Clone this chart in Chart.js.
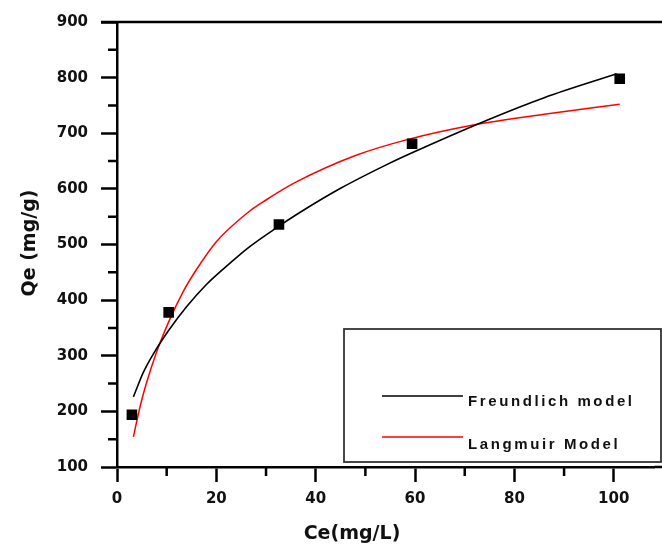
<!DOCTYPE html>
<html lang="en">
<head>
    <meta charset="UTF-8">
    <title>Isotherm fit</title>
    <script src="https://cdn.jsdelivr.net/npm/chart.js@4.4.1/dist/chart.umd.min.js"></script>
    <style>
        html, body { margin: 0; padding: 0; background: #fff; }
        #wrap { width: 662px; height: 550px; }
    </style>
</head>
<body>
    <div id="wrap"><canvas id="isoChart"></canvas></div>
    <script>
    // measured points
    var ceData = [3, 10.4, 32.6, 59.4, 101.2];
    var qeData = [194, 378, 536, 681, 798];

    // fitted curves
    var freundX = [3.3, 5.3, 7.3, 10.6, 14, 18, 22.7, 26.4, 32.6, 36, 45, 54.6, 59.4, 74.6, 86, 100.6];
    var freundY = [226, 270, 303, 348, 388, 428, 466, 494, 533, 553, 601, 645, 665, 724, 764, 807];
    var langX = [3.3, 4.6, 5.9, 7.9, 10.6, 13.3, 16, 20, 26.4, 30, 36, 48, 58.6, 71.2, 86, 101.2];
    var langY = [154, 207, 250, 305, 365, 415, 455, 505, 558, 580, 612, 660, 689, 714, 734, 752];

    var xTicks = [0, 20, 40, 60, 80, 100];
    var yTicks = [100, 200, 300, 400, 500, 600, 700, 800, 900];
    var legendLabels = ['Freundlich model', 'Langmuir Model'];

    function pairs(xs, ys) {
        return xs.map(function (x, i) { return { x: x, y: ys[i] }; });
    }

    var tickFont = { family: 'DejaVu Sans', size: 15, weight: 'bold' };

    // minor ticks, top frame line, axis titles and the boxed legend
    var extras = {
        id: 'extras',
        afterDraw: function (chart) {
            var c = chart.ctx, a = chart.chartArea;
            var xs = chart.scales.x, ys = chart.scales.y;
            c.save();
            c.strokeStyle = '#000';
            c.lineWidth = 2.5;
            c.beginPath();
            for (var v = 10; v <= 108; v += 20) {
                var px = xs.getPixelForValue(v);
                c.moveTo(px, a.bottom);
                c.lineTo(px, a.bottom + 9);
            }
            for (var w = 150; w < 900; w += 100) {
                var py = ys.getPixelForValue(w);
                c.moveTo(a.left, py);
                c.lineTo(a.left - 9, py);
            }
            c.moveTo(a.left - 16, a.top);
            c.lineTo(chart.width, a.top);
            c.moveTo(a.right, a.bottom);
            c.lineTo(chart.width, a.bottom);
            c.stroke();

            c.fillStyle = '#111';
            c.font = 'bold 19px "DejaVu Sans"';
            c.textAlign = 'center';
            c.textBaseline = 'middle';
            c.fillText('Ce(mg/L)', 352, 534);
            c.translate(30, 243);
            c.rotate(-Math.PI / 2);
            c.fillText('Qe (mg/g)', 0, 0);
            c.restore();

            c.save();
            c.strokeStyle = '#333';
            c.lineWidth = 1.8;
            c.strokeRect(344, 329, 317, 133);
            var colors = ['#000', '#ff0000'];
            var lineY = [396, 437], textY = [402, 445];
            c.font = 'bold 15px "Liberation Sans"';
            c.letterSpacing = '2.6px';
            c.textAlign = 'left';
            c.textBaseline = 'middle';
            c.fillStyle = '#111';
            for (var i = 0; i < 2; i++) {
                c.strokeStyle = colors[i];
                c.lineWidth = 1.6;
                c.beginPath();
                c.moveTo(382, lineY[i]);
                c.lineTo(463, lineY[i]);
                c.stroke();
                c.fillText(legendLabels[i], 468, textY[i]);
            }
            c.restore();
        }
    };

    var ctx = document.getElementById('isoChart').getContext('2d');
    var chart = new Chart(ctx, {
        type: 'scatter',
        data: {
            datasets: [{
                label: 'Experimental',
                data: pairs(ceData, qeData),
                pointStyle: 'rect',
                pointRadius: 7.5,
                pointBorderWidth: 0,
                backgroundColor: '#000',
                borderColor: '#000'
            }, {
                label: legendLabels[0],
                data: pairs(freundX, freundY),
                showLine: true,
                pointRadius: 0,
                borderColor: '#000',
                borderWidth: 1.6,
                cubicInterpolationMode: 'monotone'
            }, {
                label: legendLabels[1],
                data: pairs(langX, langY),
                showLine: true,
                pointRadius: 0,
                borderColor: '#ff0000',
                borderWidth: 1.5,
                cubicInterpolationMode: 'monotone'
            }]
        },
        options: {
            responsive: true,
            maintainAspectRatio: false,
            animation: false,
            layout: { padding: { top: 19, right: 0, left: 0, bottom: 0 } },
            plugins: {
                legend: { display: false },
                tooltip: { enabled: false }
            },
            scales: {
                x: {
                    type: 'linear',
                    min: 0,
                    max: 108.2,
                    afterBuildTicks: function (s) {
                        s.ticks = xTicks.map(function (v) { return { value: v }; });
                    },
                    afterFit: function (s) { s.height = 83; },
                    ticks: { font: tickFont, color: '#111', padding: 8, includeBounds: false },
                    grid: { drawOnChartArea: false, tickLength: 15, tickWidth: 2.5, tickColor: '#000' },
                    border: { color: '#000', width: 2.5 }
                },
                y: {
                    min: 100,
                    max: 900,
                    afterBuildTicks: function (s) {
                        s.ticks = yTicks.map(function (v) { return { value: v }; });
                    },
                    afterFit: function (s) { s.width = 117; },
                    ticks: { font: tickFont, color: '#111', padding: 13 },
                    grid: { drawOnChartArea: false, tickLength: 16, tickWidth: 2.5, tickColor: '#000' },
                    border: { color: '#000', width: 2.5 }
                }
            }
        },
        plugins: [extras]
    });
    </script>
</body>
</html>
